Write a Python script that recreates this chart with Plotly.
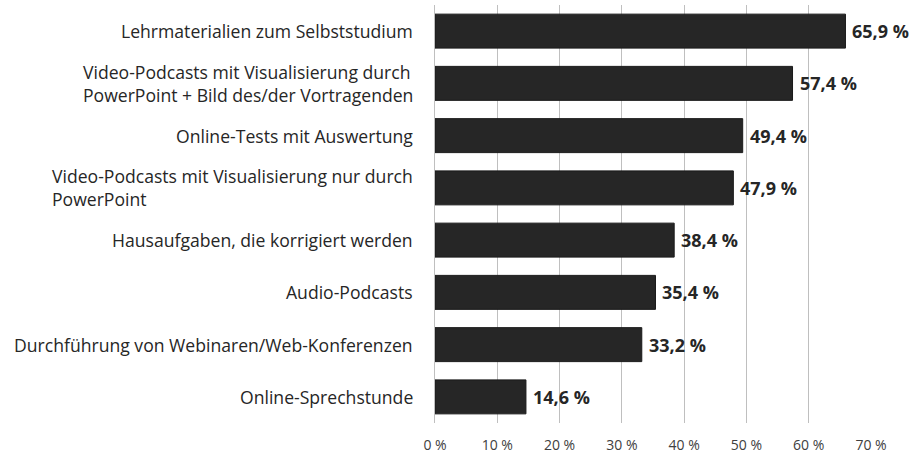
import plotly.graph_objects as go

categories = [
    "Lehrmaterialien zum Selbststudium",
    "Video-Podcasts mit Visualisierung durch<br>PowerPoint + Bild des/der Vortragenden",
    "Online-Tests mit Auswertung",
    "Video-Podcasts mit Visualisierung nur durch<br>PowerPoint",
    "Hausaufgaben, die korrigiert werden",
    "Audio-Podcasts",
    "Durchführung von Webinaren/Web-Konferenzen",
    "Online-Sprechstunde",
]
values = [65.9, 57.4, 49.4, 47.9, 38.4, 35.4, 33.2, 14.6]
tick_values = [0, 10, 20, 30, 40, 50, 60, 70]
tick_labels = [f"{t} %" for t in tick_values]
value_labels = [f"{v:.1f}".replace(".", ",") + " %" for v in values]

FONT = "Open Sans"
DARK = "#262626"

fig = go.Figure()
fig.add_trace(go.Bar(
    y=categories,
    x=values,
    orientation="h",
    marker=dict(color=DARK, line=dict(color="#1a1a1a", width=1)),
    hoverinfo="skip",
))

for cat, v, lab in zip(categories, values, value_labels):
    fig.add_annotation(
        x=0, xref="paper", xanchor="right", xshift=-20,
        y=cat, yref="y", yanchor="middle",
        text=cat, align="left", showarrow=False,
        font=dict(family=FONT, size=17.6, color=DARK),
    )
    fig.add_annotation(
        x=v, xref="x", xanchor="left", xshift=5,
        y=cat, yref="y", yanchor="middle",
        text=lab, showarrow=False,
        font=dict(family=FONT, size=18, color=DARK, weight="bold"),
    )

fig.update_layout(
    width=918, height=454,
    margin=dict(l=435, r=47, t=5, b=31, autoexpand=False),
    paper_bgcolor="white", plot_bgcolor="white",
    bargap=0.35,
    showlegend=False,
    xaxis=dict(
        range=[0, 70],
        tickvals=tick_values, ticktext=tick_labels,
        showgrid=True, gridcolor="#BFBFBF", gridwidth=1,
        zeroline=False, showline=False,
        tickfont=dict(family=FONT, size=14, color="#404040"),
        ticks="", ticklabelstandoff=12,
        automargin=False,
        fixedrange=True,
    ),
    yaxis=dict(
        categoryorder="array", categoryarray=categories,
        autorange="reversed",
        showticklabels=False, ticks="",
        showline=True, linecolor="#BFBFBF", linewidth=1,
        showgrid=False, zeroline=False,
        automargin=False,
        fixedrange=True,
    ),
)

fig.write_html("out.html", config={"displayModeBar": False})
with open("out.html", encoding="utf-8") as f:
    html = f.read()
html = html.replace("<head>", "<head><style>html,body{margin:0;padding:0;}</style>", 1)
with open("out.html", "w", encoding="utf-8") as f:
    f.write(html)
